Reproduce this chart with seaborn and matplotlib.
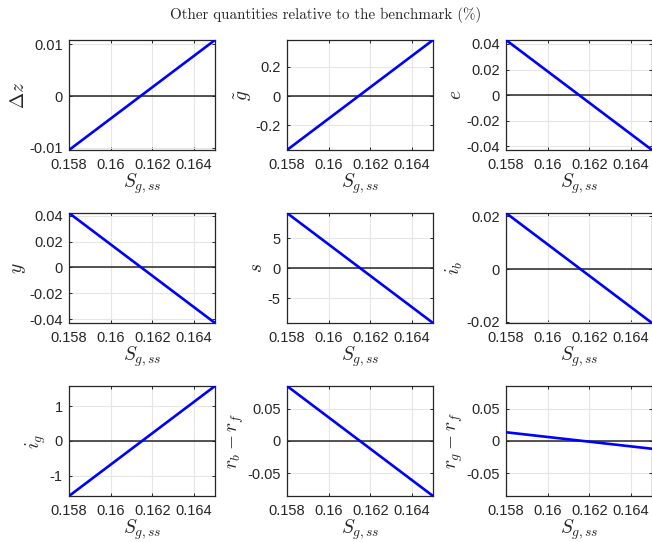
import matplotlib
matplotlib.use("Agg")
import matplotlib.pyplot as plt
import matplotlib.ticker as mticker
import numpy as np
import pandas as pd
import seaborn as sns

# benchmark sweep of S_g,ss
S_g = [0.158, 0.165]

# % deviation from benchmark at the two ends of the sweep
dz   = [-0.0104, 0.0108]
gtil = [-0.372, 0.386]
e    = [0.0431, -0.0428]
y    = [0.0423, -0.0431]
s    = [9.2, -9.1]
i_b  = [0.0212, -0.0204]
i_g  = [-1.58, 1.58]
rbrf = [0.085, -0.085]
rgrf = [0.0135, -0.012]

names  = [r"$\Delta z$", r"$\tilde{g}$", r"$e$", r"$y$", r"$s$", r"$i_b$",
          r"$i_g$", r"$r_b - r_f$", r"$r_g - r_f$"]
series = [dz, gtil, e, y, s, i_b, i_g, rbrf, rgrf]
yticks = [[-0.01, 0, 0.01], [-0.2, 0, 0.2], [-0.04, -0.02, 0, 0.02, 0.04],
          [-0.04, -0.02, 0, 0.02, 0.04], [-5, 0, 5], [-0.02, 0, 0.02],
          [-1, 0, 1], [-0.05, 0, 0.05], [-0.05, 0, 0.05]]
ylims  = [None] * 8 + [(-0.085, 0.085)]
xticks = [0.158, 0.16, 0.162, 0.164]

sns.set_theme(style="ticks")
plt.rcParams["font.family"] = ["Liberation Sans", "DejaVu Sans"]
plt.rcParams["mathtext.fontset"] = "cm"
plt.rcParams["axes.unicode_minus"] = False

fig = plt.figure(figsize=(6.52, 5.42), dpi=100)

lefts   = [69, 287, 506]
bottoms = [150, 323, 496]
W, H = 146, 110

for k in range(9):
    r, c = divmod(k, 3)
    ax = fig.add_axes([lefts[c] / 652, 1 - bottoms[r] / 542, W / 652, H / 542])
    df = pd.DataFrame({"x": S_g, "v": series[k]})
    ax.axhline(0, color="#262626", lw=1.1, zorder=2)
    sns.lineplot(data=df, x="x", y="v", ax=ax, color="#0000ff", lw=1.9, zorder=3)
    ax.set_xlim(S_g[0], S_g[-1])
    if ylims[k] is None:
        ax.set_ylim(min(series[k]), max(series[k]))
    else:
        ax.set_ylim(*ylims[k])
    ax.set_xticks(xticks)
    ax.set_yticks(yticks[k])
    fmt = mticker.FuncFormatter(lambda v, p: "%g" % v)
    ax.xaxis.set_major_formatter(fmt)
    ax.yaxis.set_major_formatter(fmt)
    ax.grid(True, color="#e6e6e6", lw=0.8, zorder=0)
    ax.tick_params(direction="in", length=2.5, width=0.7, labelsize=10.5,
                   colors="#262626", top=True, right=True, pad=4.5)
    ax.tick_params(axis="x", pad=5.5)
    for sp in ax.spines.values():
        sp.set_color("#262626")
        sp.set_linewidth(0.9)
    ax.set_xlabel(r"$S_{g,ss}$", fontsize=14, labelpad=0, color="#262626")
    ax.set_ylabel(names[k], fontsize=14, labelpad=1, color="#262626")

fig.suptitle("Other quantities relative to the benchmark (%)", family="cmr10",
             fontsize=10.8, y=0.988, va="top")

fig.savefig("out.png", dpi=100)
